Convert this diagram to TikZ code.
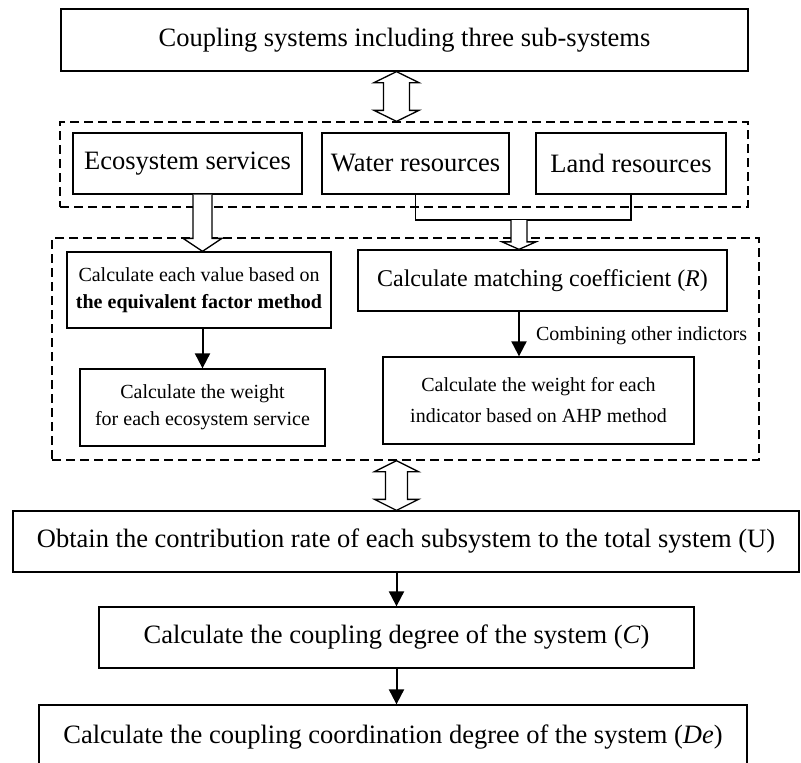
\documentclass[tikz,border=0pt]{standalone}
\usepackage{fontspec}
\setmainfont{Liberation Serif}
\usetikzlibrary{arrows.meta,calc}

\tikzset{
  box/.style={draw, line width=1.3pt, inner sep=0pt, align=center},
  group/.style={draw, line width=1.3pt, dash pattern=on 9pt off 5pt, inner sep=0pt},
  hollow/.style={draw, line width=1.3pt, fill=white, line join=miter},
  arr/.style={line width=2pt, -{Triangle[length=15pt,width=15pt]}},
  big/.style={font=\fontsize{26.5}{32}\selectfont},
  mid/.style={font=\fontsize{24}{30}\selectfont},
  small/.style={font=\fontsize{20}{27}\selectfont},
}

\begin{document}
\begin{tikzpicture}[x=1pt, y=-1pt]
  \useasboundingbox (0,0) rectangle (801,763);
  % three sub-systems
  \node[box, big, minimum width=687, minimum height=62] (top) at (404.5,40) {Coupling systems including three sub-systems};
  \node[group, minimum width=688, minimum height=85] (sub) at (404,164.5) {};
  \node[box, big, minimum width=229, minimum height=61] (eco) at (187.5,163.5) {Ecosystem services};
  \node[box, big, minimum width=187, minimum height=61] (water) at (415.5,163.5) {Water resources};
  \node[box, big, minimum width=190, minimum height=61] (land) at (631,163.5) {Land resources};
  \coordinate (bus) at (519,220);
  \draw[line width=1.3pt] (water.south) |- (bus) -| (land.south);

  % weights
  \node[group, minimum width=707, minimum height=222] (calc) at (405.5,349) {};
  \node[box, small, minimum width=264, minimum height=76] (eqv) at (199,290) {Calculate each value based on\\\textbf{the equivalent factor method}};
  \node[box, small, minimum width=245, minimum height=77] (weight) at (202.5,407.5) {Calculate the weight\\for each ecosystem service};
  \node[box, mid, minimum width=369, minimum height=61] (R) at (542.5,280.5) {Calculate matching coefficient (\textit{R})};
  \node[box, small, font=\fontsize{20}{31}\selectfont, minimum width=311, minimum height=87] (AHP) at (538.5,400.5) {Calculate the weight for each\\indicator based on AHP method};
  \draw[arr] (eqv.south -| weight.north) -- (weight.north);
  \draw[arr] (R.south -| bus) -- node[right, small, inner sep=0pt, xshift=16pt, yshift=-2pt] {Combining other indictors} (AHP.north -| bus);

  % coupling degree
  \node[box, big, minimum width=786, minimum height=61] (U) at (406,541.5) {Obtain the contribution rate of each subsystem to the total system (U)};
  \node[box, big, minimum width=595, minimum height=61] (C) at (396.5,637.5) {Calculate the coupling degree of the system (\textit{C})};
  \node[box, big, minimum width=708, minimum height=64] (De) at (393,737) {Calculate the coupling coordination degree of the system (\textit{De})};
  \draw[arr] (U.south -| C.north) -- (C.north);
  \draw[arr] (C.south) -- (C.south |- De.north);

  % hollow arrows
  \coordinate (d1) at (top.south -| C.north);
  \coordinate (d2) at (sub.north -| C.north);
  \draw[hollow] (d1) -- ($(d1)+(22.5,11)$) -- ($(d1)+(13,11)$) -- ($(d2)+(13,-11)$) -- ($(d2)+(22.5,-11)$) -- (d2)
    -- ($(d2)+(-22.5,-11)$) -- ($(d2)+(-13,-11)$) -- ($(d1)+(-13,11)$) -- ($(d1)+(-22.5,11)$) -- cycle;
  \coordinate (d3) at (calc.south -| C.north);
  \coordinate (d4) at (U.north -| C.north);
  \draw[hollow] (d3) -- ($(d3)+(22,11)$) -- ($(d3)+(11,11)$) -- ($(d4)+(11,-11)$) -- ($(d4)+(22,-11)$) -- (d4)
    -- ($(d4)+(-22,-11)$) -- ($(d4)+(-11,-11)$) -- ($(d3)+(-11,11)$) -- ($(d3)+(-22,11)$) -- cycle;
  \coordinate (e1) at (eco.south -| weight.north);
  \coordinate (e2) at (eqv.north -| weight.north);
  \draw[hollow] ($(e1)+(-9.5,0)$) -- ($(e2)+(-9.5,-13)$) -- ($(e2)+(-19.5,-13)$) -- (e2)
    -- ($(e2)+(19.5,-13)$) -- ($(e2)+(9.5,-13)$) -- ($(e1)+(9.5,0)$);
  \coordinate (r2) at (R.north -| bus);
  \draw[hollow] ($(bus)+(-8,0)$) -- ($(r2)+(-8,-7.5)$) -- ($(r2)+(-17,-7.5)$) -- (r2)
    -- ($(r2)+(17,-7.5)$) -- ($(r2)+(8,-7.5)$) -- ($(bus)+(8,0)$);
\end{tikzpicture}
\end{document}
